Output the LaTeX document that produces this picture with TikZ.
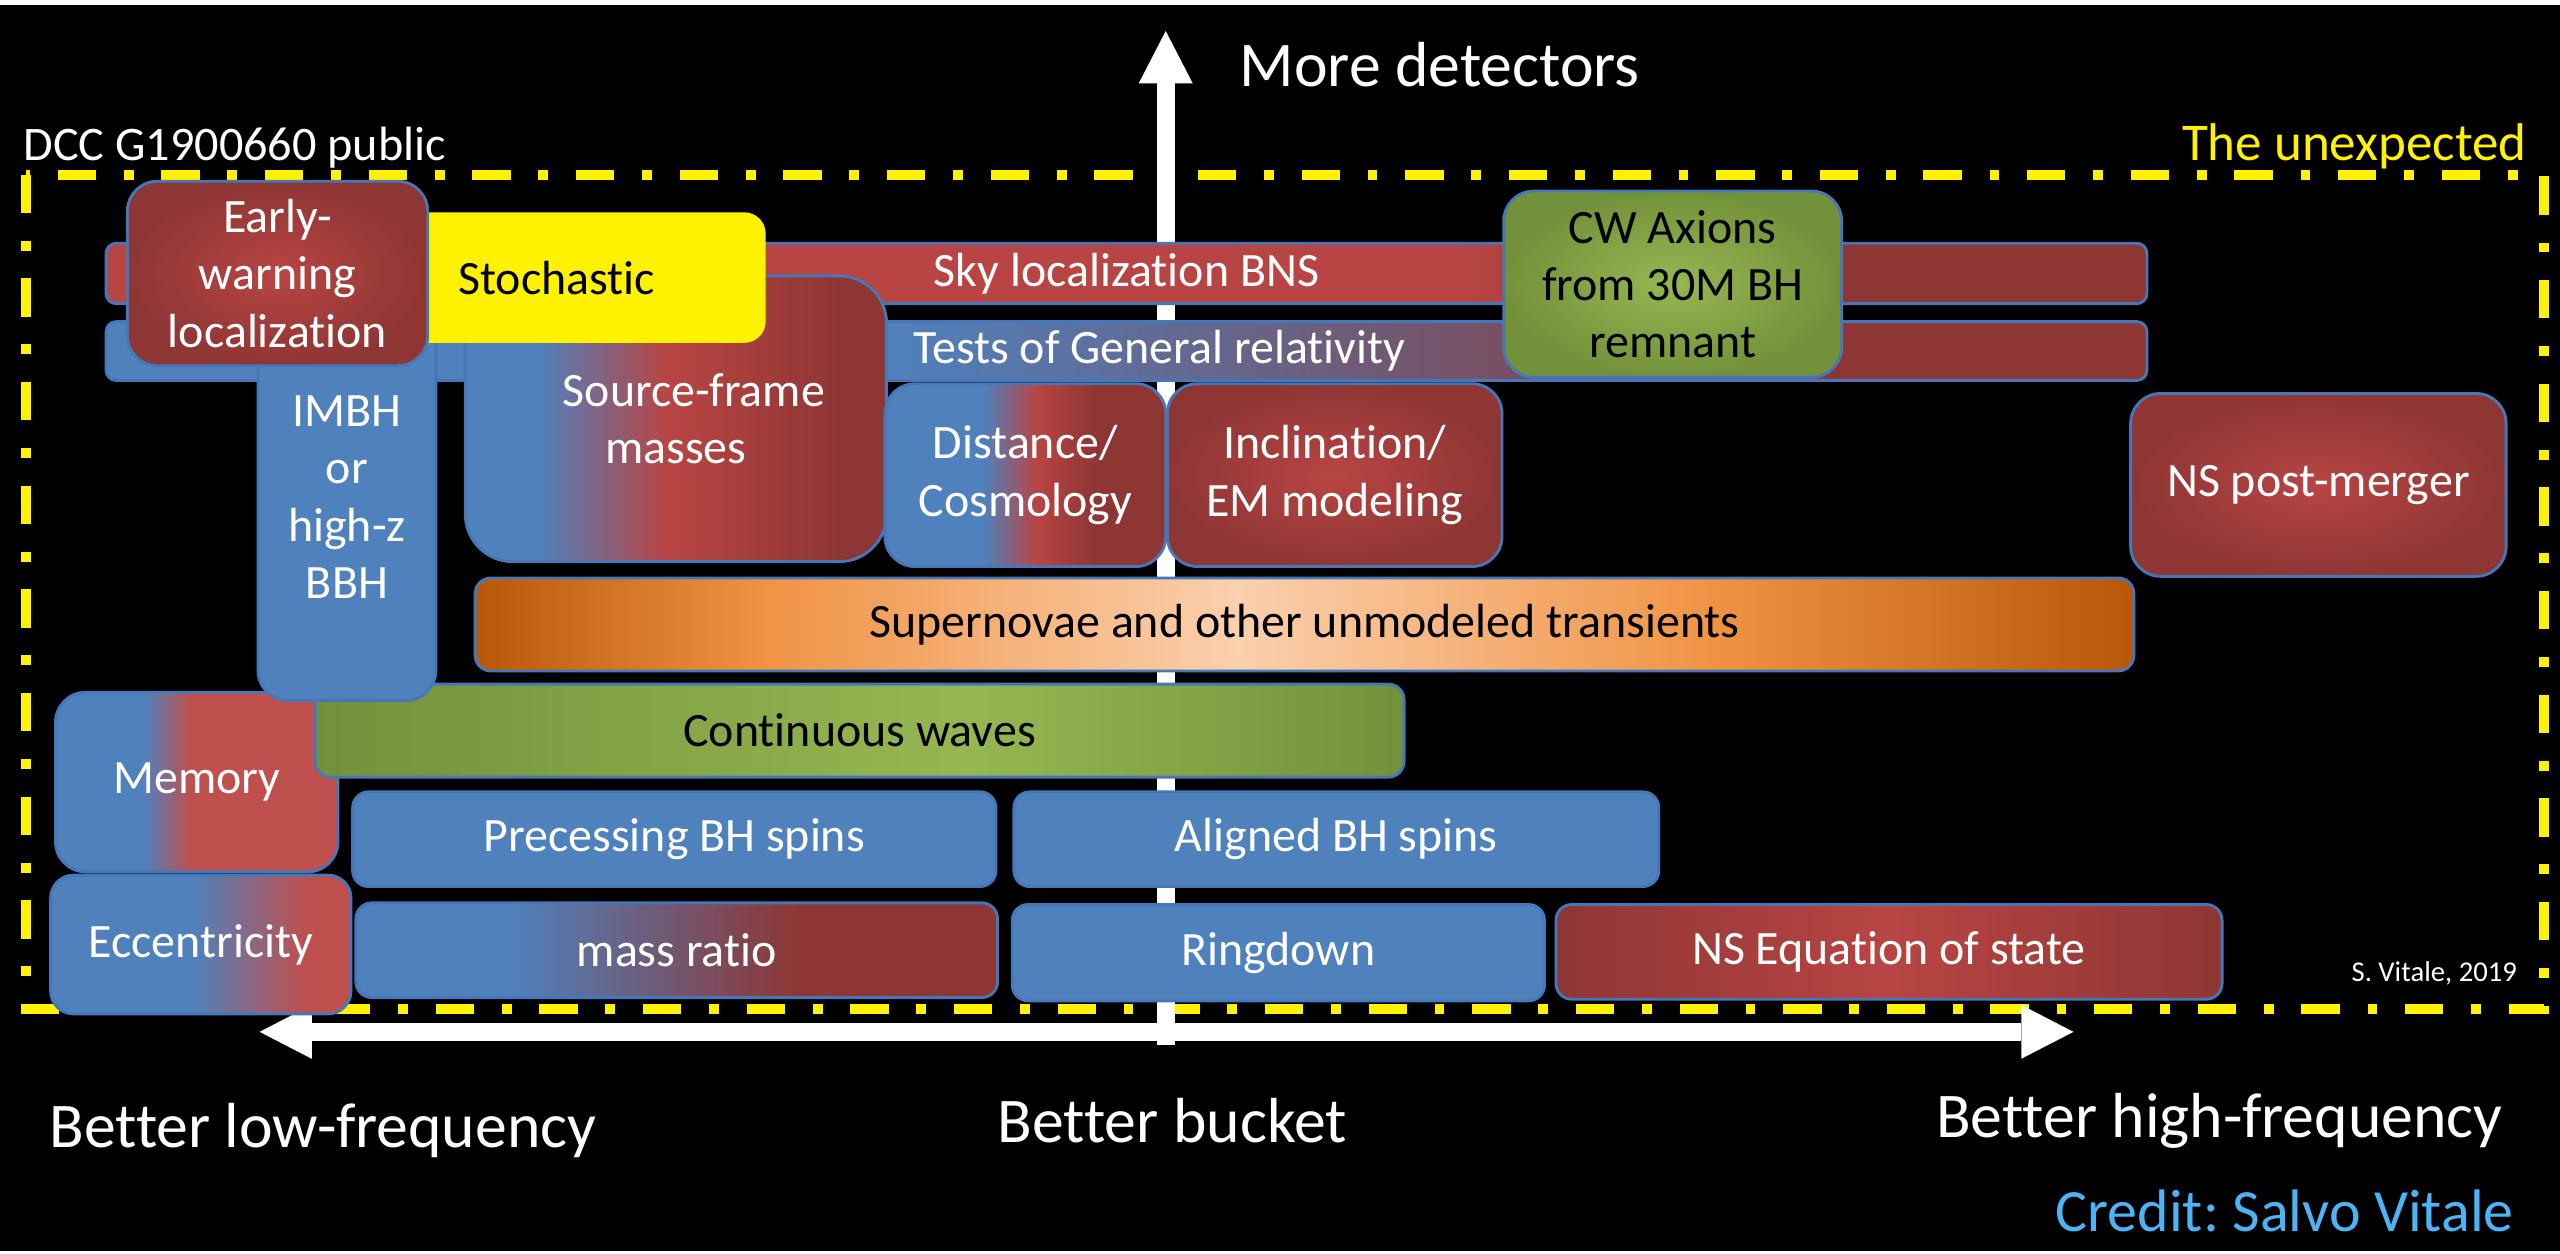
\documentclass[tikz,border=0pt]{standalone}
\usepackage{fontspec}
\setmainfont{Carlito}[Ligatures=NoCommon]
\usetikzlibrary{arrows.meta}
\frenchspacing

\definecolor{gwblue}{HTML}{4F81BD}
\definecolor{gwline}{HTML}{4677B8}
\definecolor{gwred}{HTML}{C0504D}
\definecolor{gwredlt}{HTML}{B84543}
\definecolor{gwreddk}{HTML}{8E3634}
\definecolor{gwgreenlt}{HTML}{95B752}
\definecolor{gwgreendk}{HTML}{73913A}
\definecolor{gworange}{HTML}{F09446}
\definecolor{gworangelt}{HTML}{FAD0AE}
\definecolor{gworangedk}{HTML}{B95709}
\definecolor{gwcredit}{HTML}{4CB4F5}

\pgfdeclarehorizontalshading{skyfade}{100bp}{color(0bp)=(gwredlt); color(58bp)=(gwredlt); color(67bp)=(gwreddk); color(100bp)=(gwreddk)}
\pgfdeclarehorizontalshading{tgrfade}{100bp}{color(0bp)=(gwblue); color(44bp)=(gwblue); color(67bp)=(gwreddk); color(100bp)=(gwreddk)}
\pgfdeclarehorizontalshading{srcfade}{100bp}{color(0bp)=(gwblue); color(33.5bp)=(gwblue); color(49bp)=(gwredlt); color(70bp)=(gwreddk); color(100bp)=(gwreddk)}
\pgfdeclarehorizontalshading{distfade}{100bp}{color(0bp)=(gwblue); color(42.5bp)=(gwblue); color(52bp)=(gwredlt); color(62.5bp)=(gwreddk); color(100bp)=(gwreddk)}
\pgfdeclarehorizontalshading{memfade}{100bp}{color(0bp)=(gwblue); color(40.5bp)=(gwblue); color(49bp)=(gwred); color(100bp)=(gwred)}
\pgfdeclarehorizontalshading{eccfade}{100bp}{color(0bp)=(gwblue); color(48.5bp)=(gwblue); color(67.5bp)=(gwred); color(100bp)=(gwred)}
\pgfdeclarehorizontalshading{qfade}{100bp}{color(0bp)=(gwblue); color(37bp)=(gwblue); color(59.5bp)=(gwreddk); color(100bp)=(gwreddk)}
\pgfdeclarehorizontalshading{redglow}{100bp}{color(0bp)=(gwreddk); color(25bp)=(gwreddk); color(50bp)=(gwredlt); color(75bp)=(gwreddk); color(100bp)=(gwreddk)}
\pgfdeclarehorizontalshading{cwfade}{100bp}{color(0bp)=(gwgreendk); color(25bp)=(gwgreendk); color(55bp)=(gwgreenlt); color(75bp)=(gwgreendk); color(100bp)=(gwgreendk)}
\pgfdeclarehorizontalshading{snfade}{100bp}{color(0bp)=(gworangedk); color(25bp)=(gworangedk); color(34bp)=(gworange); color(48bp)=(gworangelt); color(62bp)=(gworange); color(75bp)=(gworangedk); color(100bp)=(gworangedk)}

\begin{document}
\begin{tikzpicture}[x=0.02cm,y=-0.02cm,
    >={Triangle[length=0.64cm,width=0.66cm,line width=0pt]},
    box/.style={rectangle,draw=gwline,line width=1pt,inner sep=0pt,
                rounded corners=10.5pt,align=center,text=white,
                font=\fontsize{16.7}{20}\selectfont},
    size/.style 2 args={minimum width=#1*0.02cm,minimum height=#2*0.02cm},
    bluebox/.style={box,fill=gwblue},
    fadebox/.style={box,shade,shading=#1},
    glowbox/.style={box,inner color=gwredlt,outer color=gwreddk},
    thinbar/.style={rounded corners=3.5pt},
    flatbox/.style={rounded corners=5.5pt},
    axisline/.style={draw=white,line width=0.22cm},
    dashframe/.style={draw=yellow,line width=0.12cm,
                      dash pattern=on 0.47cm off 0.34cm on 0.12cm off 0.34cm},
    biglabel/.style={text=white,inner sep=0pt,font=\fontsize{22.2}{26}\selectfont},
]
    \useasboundingbox (0,0) rectangle (1568,768);
    \fill[black] (0,0) rectangle (1568,768);
    \fill[white] (0,0) rectangle (1568,3);
    \fill[white] (0,766) rectangle (1568,768);

    \draw[dashframe] (16,107) rectangle (1558,618);

    \coordinate (ybot)   at (714,640);
    \coordinate (ytop)   at (714,19);
    \coordinate (xleft)  at (159,632);
    \coordinate (xright) at (1270,632);
    \draw[axisline,->]  (ybot)  -- (ytop);
    \draw[axisline,<->] (xleft) -- (xright);

    \node[fadebox=skyfade,thinbar,size={1250}{37}] (sky) at (690,167.5) {Sky localization BNS};
    \node[fadebox=tgrfade,thinbar,size={1250}{36}] (tgr) at (690,215) {\hspace*{0.8cm}Tests of General relativity};
    \node[fadebox=srcfade,rounded corners=16.5pt,size={258}{175}] (srcmass) at (414,256.5) {\hspace*{0.44cm}Source-frame\\masses};
    \node[fadebox=memfade,size={173}{110}] (memory) at (120.5,479) {Memory};
    \node[fadebox=cwfade,flatbox,text=black,size={667}{57}] (cwaves) at (526.5,447.5) {Continuous waves};
    \node[bluebox,size={109}{249}] (imbh) at (212.5,304.5) {IMBH\\or\\high-z\\BBH};
    \node[box,fill=yellow,draw=none,text=black,rounded corners=7.5pt,size={256}{80}] (stoch) at (341,170) {Stochastic};
    \node[glowbox,size={184}{113}] (early) at (170,167.5) {Early-\\warning\\localization};
    \node[fadebox=distfade,size={172}{112}] (dist) at (628,291) {Distance/\\Cosmology};
    \node[glowbox,size={205}{112}] (incl) at (817.5,291) {Inclination/\\EM modeling};
    \node[box,inner color=gwgreenlt,outer color=gwgreendk,text=black,size={207}{114}] (axions) at (1024.5,174) {CW Axions\\from 30M BH\\remnant};
    \node[glowbox,size={230}{112}] (nspost) at (1420,297) {NS post-merger};
    \node[fadebox=snfade,flatbox,text=black,size={1016}{57}] (snova) at (799,382.5) {Supernovae and other unmodeled transients};
    \node[bluebox,flatbox,size={394}{58}] (precess) at (413,514) {Precessing BH spins};
    \node[bluebox,flatbox,size={395}{58}] (aligned) at (818.5,514) {Aligned BH spins};
    \node[fadebox=eccfade,rounded corners=8pt,size={184}{85}] (ecc) at (123,578.5) {Eccentricity};
    \node[fadebox=qfade,flatbox,size={393}{58}] (qratio) at (414.5,582) {mass ratio};
    \node[bluebox,flatbox,size={326}{59}] (ringdown) at (783,583.5) {Ringdown};
    \node[fadebox=redglow,flatbox,size={408}{58}] (nseos) at (1157,583) {NS Equation of state};

    \node[biglabel,anchor=base west] (detlbl) at (759,53) {More detectors};
    \node[biglabel,anchor=base west] (lowlbl) at (30,703) {Better low-frequency};
    \node[biglabel,anchor=base] (bucketlbl) at (718,700) {Better bucket};
    \node[biglabel,anchor=base east] (highlbl) at (1533,697) {Better high-frequency};
    \node[text=gwcredit,inner sep=0pt,anchor=base east,font=\fontsize{20.9}{24}\selectfont] (credit) at (1540,754) {Credit: Salvo Vitale};
    \node[text=white,inner sep=0pt,anchor=base west,font=\fontsize{16.8}{20}\selectfont] (dcc) at (14,98) {DCC G1900660 public};
    \node[text=yellow,inner sep=0pt,anchor=base east,font=\fontsize{18.5}{22}\selectfont] (unexp) at (1548,98) {The unexpected};
    \node[text=white,inner sep=0pt,anchor=base east,font=\fontsize{10}{12}\selectfont] (sig) at (1542,601) {S. Vitale, 2019};
\end{tikzpicture}
\end{document}
